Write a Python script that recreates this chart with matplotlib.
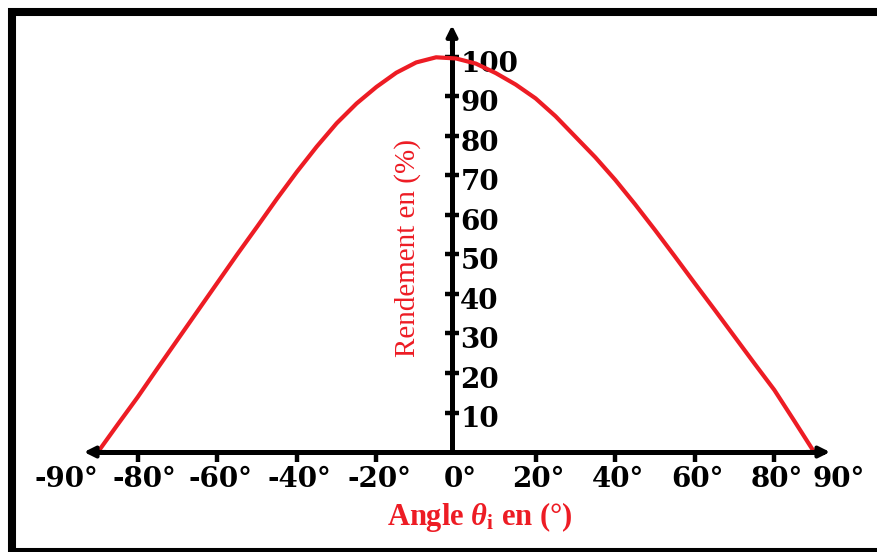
import matplotlib
matplotlib.use("Agg")
import matplotlib.pyplot as plt
import matplotlib.transforms as mtransforms
from matplotlib.patches import Rectangle

# values
angles = [-90, -85, -80, -75, -70, -65, -60, -55, -50, -45, -40, -35, -30, -25, -20, -15, -10, -5, 0,
          5, 10, 15, 20, 25, 30, 35, 40, 45, 50, 55, 60, 65, 70, 75, 80, 85, 90]
rendement = [0, 7.0, 13.9, 21.2, 28.4, 35.6, 42.8, 50.0, 57.0, 64.1, 70.9, 77.3, 83.2, 88.2, 92.4, 96.0, 98.6, 99.9, 99.6,
             98.3, 95.9, 93.0, 89.5, 85.0, 79.8, 74.6, 68.9, 62.7, 56.2, 49.5, 42.7, 36.0, 29.2, 22.4, 15.7, 7.9, 0]

x_ticks = [-90, -80, -60, -40, -20, 0, 20, 40, 60, 80, 90]
x_tick_labels = ["-90°", "-80°", "-60°", "-40°", "-20°", "0°", "20°", "40°", "60°", "80°", "90°"]
y_ticks = [10, 20, 30, 40, 50, 60, 70, 80, 90, 100]
y_tick_labels = [str(v) for v in y_ticks]

RED = "#ed1c24"
TICK_FONT = dict(family="DejaVu Serif", weight="bold", size=20)
Y_AXIS_AT = -1  # the vertical axis sits a hair left of 0 in the original drawing

plt.rcParams["mathtext.fontset"] = "custom"
plt.rcParams["mathtext.rm"] = "Liberation Serif:bold"
plt.rcParams["mathtext.bf"] = "Liberation Serif:bold"
plt.rcParams["mathtext.it"] = "Liberation Serif:italic:bold"
plt.rcParams["mathtext.bfit"] = "Liberation Serif:italic:bold"

fig = plt.figure(figsize=(8.77, 5.52), dpi=100, facecolor="white")
ax = fig.add_axes([0, 0, 1, 1])
ax.set_xlim(-114.6, 105.8)
ax.set_ylim(-25.3, 114.4)

ax.plot(angles, rendement, color=RED, lw=3.0, solid_capstyle="round", solid_joinstyle="round", zorder=3)

# axes crossing at the origin
for side in ("top", "right"):
    ax.spines[side].set_visible(False)
ax.spines["bottom"].set_position(("data", 0))
ax.spines["left"].set_position(("data", Y_AXIS_AT))
ax.spines["bottom"].set_bounds(-91, 92)
ax.spines["left"].set_bounds(0, 105)
ax.spines["bottom"].set_linewidth(3.6)
ax.spines["left"].set_linewidth(3.6)

arrow = dict(arrowstyle="-|>", color="black", lw=3.0, mutation_scale=16, shrinkA=0, shrinkB=0)
ax.annotate("", xy=(-93.5, 0), xytext=(-88, 0), arrowprops=arrow)
ax.annotate("", xy=(94, 0), xytext=(88, 0), arrowprops=arrow)
ax.annotate("", xy=(Y_AXIS_AT, 108), xytext=(Y_AXIS_AT, 102), arrowprops=arrow)

ax.set_xticks(x_ticks)
ax.set_xticklabels(x_tick_labels, **TICK_FONT)
ax.tick_params(axis="x", direction="out", length=7, width=3.2, pad=3)
for tick, value in zip(ax.xaxis.get_major_ticks(), x_ticks):
    if value in (-90, 0, 90):
        tick.tick1line.set_visible(False)

label_shift = {-90: -23, -80: 5, 0: 3, 90: 18}
for label, value in zip(ax.get_xticklabels(), x_ticks):
    dx = label_shift.get(value, 2)
    label.set_transform(label.get_transform() + mtransforms.ScaledTranslation(dx / 72, 0, fig.dpi_scale_trans))

ax.set_yticks(y_ticks)
ax.set_yticklabels(y_tick_labels, **TICK_FONT)
ax.tick_params(axis="y", direction="inout", length=10, width=3.2, pad=-11)
for label in ax.get_yticklabels():
    label.set_horizontalalignment("left")
    label.set_transform(label.get_transform() + mtransforms.ScaledTranslation(0, -3 / 72, fig.dpi_scale_trans))

ax.text(-12.1, 51.6, "Rendement en (%)", rotation=90, ha="center", va="center",
        family="Liberation Serif", fontsize=21, color=RED)
ax.text(6, -16.5, r"Angle $\boldsymbol{\theta}_{\mathbf{i}}$ en (°)", ha="center", va="center",
        family="Liberation Serif", weight="bold", fontsize=22, color=RED)

# black frame around the picture
fig.add_artist(Rectangle((12 / 877, 0), 880 / 877, 1 - 12 / 552, fill=False, lw=5.8,
                         edgecolor="black", transform=fig.transFigure, clip_on=False))

fig.savefig("out.png", dpi=100)
